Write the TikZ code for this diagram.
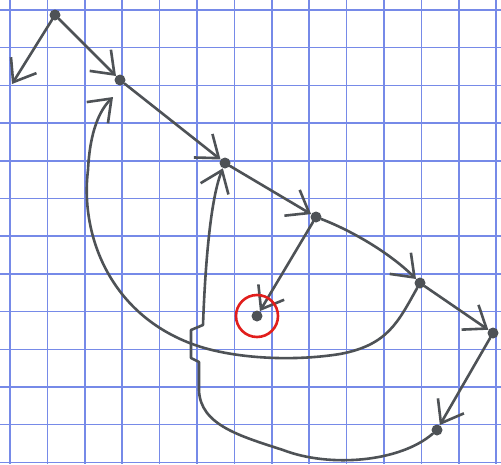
\documentclass[tikz,border=0pt]{standalone}
\usetikzlibrary{arrows.meta}
\definecolor{pen}{RGB}{78,82,86}
\definecolor{gridc}{RGB}{118,138,232}
\definecolor{ring}{RGB}{225,30,28}
\begin{document}
\begin{tikzpicture}[x=1pt,y=-1pt,
  vtx/.style={circle,fill=pen,inner sep=0pt,minimum size=11pt},
  gridline/.style={draw=gridc,line width=1.5pt},
  edge/.style={draw=pen,line width=2.6pt,line cap=round,line join=round,
    -{Straight Barb[length=20pt,width=30pt,line width=2.6pt]}},
  plain/.style={draw=pen,line width=2.6pt,line cap=round,line join=round}]
\useasboundingbox (0,0) rectangle (501,464);
\fill[white] (0,0) rectangle (501,464);
\foreach \k in {0,...,13} \draw[gridline] ({10+37.4*\k},0) -- ({10+37.4*\k},464);
\foreach \k in {0,...,12} \draw[gridline] (0,{10+37.7*\k}) -- (501,{10+37.7*\k});
% vertices
\node[vtx] (A) at (55,15) {};
\node[vtx] (B) at (120,80) {};
\node[vtx] (C) at (225,163) {};
\node[vtx] (D) at (316,217) {};
\node[vtx] (E) at (420,283) {};
\node[vtx] (F) at (493,333) {};
\node[vtx] (G) at (437,430) {};
\node[vtx] (H) at (257,316) {};
\coordinate (a0) at (12,84);
\coordinate (bB) at (113,97);
% edges
\draw[edge] (A) -- (a0);
\draw[edge] (A) -- (B);
\draw[edge] (B) -- (C);
\draw[edge] (C) -- (D);
\draw[edge] (D) .. controls (355,232) and (392,255) .. (E);
\draw[edge] (E) -- (F);
\draw[edge] (F) -- (G);
\draw[edge] (D) -- (H);
\draw[edge] (E) .. controls (398,322) and (388,345) .. (340,354)
  .. controls (290,362) and (232,358) .. (195,345)
  .. controls (110,315) and (80,235) .. (88,170)
  .. controls (90,130) and (100,110) .. (bB);
\draw[edge] (G) .. controls (400,462) and (330,468) .. (283,450)
  .. controls (240,436) and (200,425) .. (199,390)
  -- (199,362) -- (191,358) -- (191,330) -- (203,325)
  .. controls (205,270) and (210,200) .. (C);
% highlight ring
\draw[ring,line width=2.6pt] (H) circle (21pt);
\end{tikzpicture}
\end{document}
